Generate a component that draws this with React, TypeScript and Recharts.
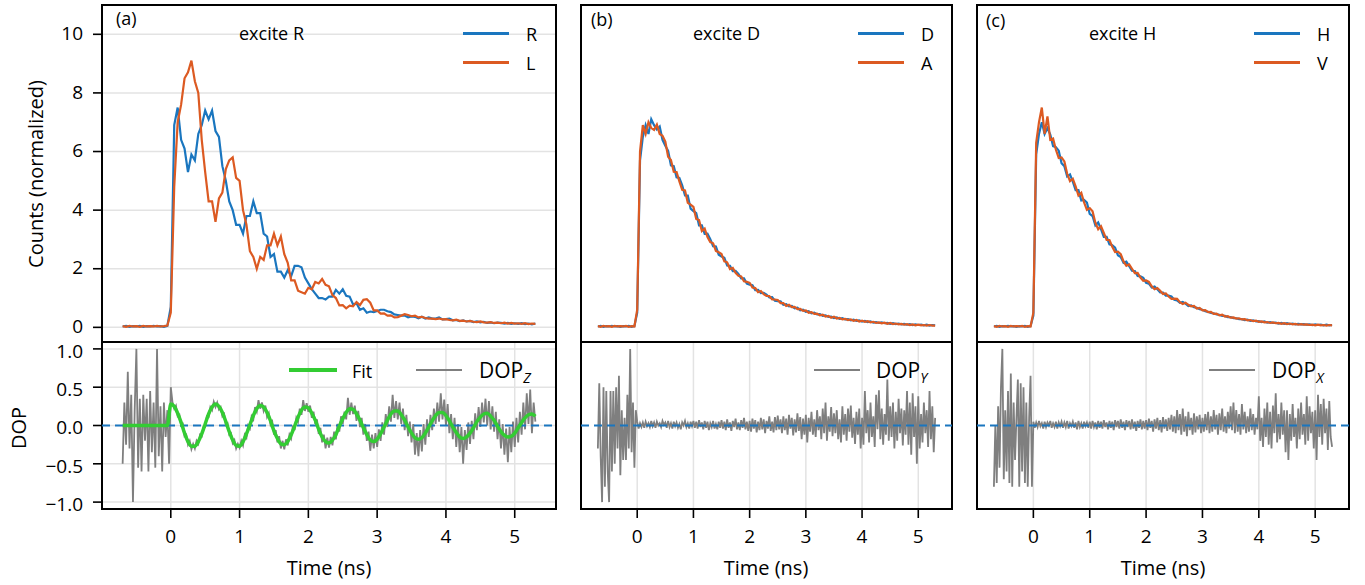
import React from 'react';
import { LineChart, Line, XAxis, YAxis, CartesianGrid, ReferenceLine, ReferenceArea } from 'recharts';

// ---------- sampling grids ----------
const timeTop: number[] = Array.from({ length: 121 }, (_, i) => Math.round((-0.7 + i * 0.05) * 1000) / 1000);
const timeDop: number[] = Array.from({ length: 241 }, (_, i) => Math.round((-0.7 + i * 0.025) * 1000) / 1000);

// ---------- tick labels ----------
const xTicksTop = [0, 2, 4];
const xTicksBottom = [0, 1, 2, 3, 4, 5];
const yTicksTop = [0, 2, 4, 6, 8, 10];
const yTicksDop = [-1, -0.5, 0, 0.5, 1];

// ---------- counts, excite R ----------
const countsR = [
  0.03, 0.05, 0.02, 0.04, 0.03, 0.05, 0.02, 0.04, 0.03, 0.05,
  0.03, 0.04, 0.02, 0.05, 0.7, 6.9, 7.5, 6.4, 6.1, 5.3,
  5.9, 5.7, 6.6, 6.9, 7.4, 7.1, 7.4, 6.7, 6.5, 5.5,
  5.0, 4.3, 4.0, 3.5, 3.5, 3.2, 3.8, 3.8, 4.3, 3.9,
  3.9, 3.2, 3.1, 2.4, 2.5, 1.9, 1.9, 1.7, 1.95, 1.75,
  2.1, 2.1, 2.05, 1.7, 1.5, 1.3, 1.15, 1.0, 1.0, 0.95,
  1.05, 1.05, 1.28, 1.15, 1.3, 1.08, 1.05, 0.78, 0.82, 0.6,
  0.65, 0.5, 0.54, 0.52, 0.56, 0.6, 0.6, 0.55, 0.52, 0.44,
  0.42, 0.4, 0.4, 0.34, 0.37, 0.36, 0.31, 0.36, 0.3, 0.34,
  0.3, 0.3, 0.34, 0.27, 0.28, 0.3, 0.24, 0.25, 0.21, 0.24,
  0.2, 0.22, 0.18, 0.2, 0.17, 0.19, 0.15, 0.17, 0.14, 0.16,
  0.15, 0.13, 0.15, 0.12, 0.14, 0.12, 0.14, 0.11, 0.13, 0.1,
  0.13,
];
const countsL = [
  0.04, 0.02, 0.05, 0.03, 0.04, 0.02, 0.05, 0.03, 0.04, 0.03,
  0.05, 0.03, 0.04, 0.06, 0.5, 4.8, 7.0, 7.6, 8.5, 8.7,
  9.1, 8.4, 8.0, 6.4, 5.3, 4.3, 4.3, 3.6, 4.4, 4.6,
  5.4, 5.7, 5.8, 5.1, 5.0, 4.0, 3.5, 2.6, 2.4, 2.0,
  2.4, 2.3, 2.8, 2.8, 3.2, 2.8, 3.1, 2.5, 2.2, 1.6,
  1.6, 1.25, 1.2, 1.15, 1.35, 1.3, 1.55, 1.5, 1.65, 1.45,
  1.4, 1.1, 1.0, 0.75, 0.76, 0.65, 0.74, 0.72, 0.86, 0.76,
  0.94, 0.96, 0.84, 0.58, 0.58, 0.47, 0.48, 0.4, 0.41, 0.34,
  0.35, 0.4, 0.45, 0.42, 0.38, 0.4, 0.34, 0.36, 0.32, 0.3,
  0.3, 0.28, 0.3, 0.27, 0.28, 0.25, 0.24, 0.26, 0.22, 0.23,
  0.2, 0.22, 0.19, 0.18, 0.2, 0.17, 0.16, 0.18, 0.15, 0.16,
  0.14, 0.16, 0.13, 0.15, 0.13, 0.14, 0.12, 0.14, 0.11, 0.13,
  0.12,
];

// ---------- counts, excite D ----------
const countsD = [
  0.03, 0.05, 0.02, 0.04, 0.03, 0.05, 0.03, 0.04, 0.02, 0.04,
  0.03, 0.05, 0.02, 0.04, 0.5, 5.7, 6.5, 6.9, 6.6, 7.1,
  6.9, 6.75, 6.85, 6.4, 6.2, 6.02, 5.53, 5.5, 5.12, 5.1,
  4.85, 4.5, 4.5, 4.05, 3.97, 3.9, 3.48, 3.48, 3.19, 3.2,
  3.01, 2.77, 2.76, 2.48, 2.42, 2.37, 2.11, 2.1, 1.92, 1.93,
  1.82, 1.67, 1.67, 1.49, 1.46, 1.44, 1.27, 1.28, 1.17, 1.18,
  1.12, 1.02, 1.03, 0.91, 0.89, 0.89, 0.77, 0.79, 0.72, 0.73,
  0.65, 0.67, 0.58, 0.6, 0.53, 0.55, 0.48, 0.5, 0.44, 0.45,
  0.39, 0.41, 0.36, 0.37, 0.32, 0.34, 0.29, 0.31, 0.27, 0.28,
  0.24, 0.26, 0.22, 0.24, 0.2, 0.22, 0.18, 0.2, 0.16, 0.18,
  0.15, 0.17, 0.14, 0.15, 0.12, 0.14, 0.11, 0.13, 0.1, 0.12,
  0.09, 0.11, 0.08, 0.1, 0.08, 0.09, 0.07, 0.09, 0.06, 0.08,
  0.07,
];
const countsA = [
  0.04, 0.02, 0.05, 0.03, 0.04, 0.02, 0.05, 0.03, 0.04, 0.03,
  0.05, 0.02, 0.04, 0.03, 0.6, 6.0, 6.9, 6.6, 7.0, 6.8,
  6.74, 6.92, 6.6, 6.54, 6.34, 5.82, 5.71, 5.31, 5.3, 4.98,
  4.69, 4.67, 4.25, 4.19, 4.11, 3.7, 3.66, 3.29, 3.37, 3.08,
  2.91, 2.87, 2.61, 2.56, 2.5, 2.25, 2.22, 1.99, 2.03, 1.86,
  1.76, 1.74, 1.57, 1.55, 1.52, 1.36, 1.34, 1.2, 1.24, 1.13,
  1.07, 1.07, 0.95, 0.95, 0.93, 0.83, 0.83, 0.73, 0.77, 0.69,
  0.7, 0.62, 0.63, 0.56, 0.58, 0.5, 0.52, 0.46, 0.47, 0.41,
  0.43, 0.37, 0.39, 0.33, 0.36, 0.3, 0.32, 0.27, 0.29, 0.25,
  0.27, 0.22, 0.25, 0.2, 0.23, 0.19, 0.21, 0.17, 0.19, 0.15,
  0.17, 0.14, 0.16, 0.12, 0.15, 0.11, 0.13, 0.1, 0.12, 0.09,
  0.11, 0.08, 0.1, 0.07, 0.09, 0.07, 0.08, 0.06, 0.08, 0.06,
  0.06,
];

// ---------- counts, excite H ----------
const countsH = [
  0.03, 0.05, 0.02, 0.04, 0.03, 0.05, 0.03, 0.04, 0.02, 0.04,
  0.03, 0.05, 0.02, 0.04, 0.4, 5.9, 6.6, 7.0, 6.6, 6.8,
  6.58, 6.18, 6.15, 6.03, 5.6, 5.5, 5.15, 5.22, 4.97, 4.68,
  4.68, 4.33, 4.35, 4.26, 3.87, 3.8, 3.48, 3.58, 3.35, 3.09,
  3.09, 2.83, 2.8, 2.72, 2.46, 2.4, 2.2, 2.24, 2.09, 1.93,
  1.92, 1.75, 1.74, 1.69, 1.52, 1.49, 1.36, 1.39, 1.3, 1.19,
  1.19, 1.08, 1.08, 1.05, 0.94, 0.92, 0.84, 0.87, 0.81, 0.73,
  0.75, 0.69, 0.67, 0.62, 0.6, 0.55, 0.53, 0.49, 0.48, 0.44,
  0.43, 0.39, 0.39, 0.35, 0.35, 0.31, 0.31, 0.28, 0.28, 0.25,
  0.26, 0.22, 0.24, 0.2, 0.21, 0.18, 0.2, 0.16, 0.18, 0.15,
  0.16, 0.13, 0.15, 0.12, 0.14, 0.11, 0.13, 0.1, 0.12, 0.1,
  0.11, 0.09, 0.1, 0.08, 0.1, 0.08, 0.09, 0.07, 0.09, 0.07,
  0.08,
];
const countsV = [
  0.04, 0.02, 0.05, 0.03, 0.04, 0.02, 0.05, 0.03, 0.04, 0.03,
  0.05, 0.02, 0.04, 0.03, 0.5, 6.3, 7.0, 7.5, 6.6, 7.2,
  6.4, 6.44, 6.06, 5.78, 5.8, 5.66, 5.24, 4.99, 5.07, 4.81,
  4.5, 4.59, 4.26, 4.01, 4.07, 3.96, 3.57, 3.35, 3.45, 3.22,
  2.98, 2.98, 2.75, 2.57, 2.58, 2.5, 2.25, 2.1, 2.15, 2.0,
  1.85, 1.86, 1.7, 1.59, 1.6, 1.55, 1.4, 1.3, 1.34, 1.25,
  1.14, 1.16, 1.05, 0.97, 0.98, 0.97, 0.86, 0.8, 0.84, 0.77,
  0.72, 0.73, 0.64, 0.66, 0.58, 0.59, 0.52, 0.53, 0.46, 0.47,
  0.41, 0.43, 0.37, 0.38, 0.33, 0.34, 0.3, 0.31, 0.27, 0.28,
  0.24, 0.25, 0.21, 0.23, 0.19, 0.2, 0.17, 0.18, 0.15, 0.17,
  0.14, 0.15, 0.12, 0.14, 0.11, 0.13, 0.1, 0.12, 0.09, 0.11,
  0.09, 0.1, 0.08, 0.09, 0.07, 0.09, 0.07, 0.08, 0.06, 0.08,
  0.07,
];

// ---------- fit of DOP_Z (on the 0.05 ns grid) ----------
const fitZ = [
  0, 0, 0, 0, 0, 0, 0, 0, 0, 0, 0, 0, 0, 0,
  0.28, 0.25, 0.16, 0.04, -0.10, -0.21, -0.27, -0.27, -0.21, -0.11,
  0.02, 0.15, 0.24, 0.28, 0.25, 0.17, 0.05, -0.08, -0.19, -0.26,
  -0.27, -0.21, -0.11, 0.01, 0.13, 0.22, 0.26, 0.24, 0.17, 0.06,
  -0.07, -0.17, -0.24, -0.25, -0.21, -0.12, -0.01, 0.11, 0.20, 0.24,
  0.23, 0.16, 0.07, -0.05, -0.15, -0.21, -0.23, -0.19, -0.12, -0.01,
  0.09, 0.17, 0.22, 0.21, 0.15, 0.07, -0.03, -0.12, -0.19, -0.21,
  -0.18, -0.11, -0.02, 0.07, 0.15, 0.19, 0.19, 0.14, 0.07, -0.02,
  -0.10, -0.16, -0.18, -0.16, -0.10, -0.02, 0.06, 0.13, 0.17, 0.17,
  0.13, 0.06, -0.02, -0.09, -0.15, -0.17, -0.15, -0.10, -0.03, 0.05,
  0.11, 0.15, 0.16, 0.12, 0.07, -0.01, -0.08, -0.13, -0.15, -0.14,
  -0.10, -0.03, 0.04, 0.10, 0.14, 0.15, 0.12,
];

// ---------- DOP traces (on the 0.025 ns grid) ----------
const dopZ = [
  -0.50, 0.30, -0.25, 0.70, -0.30, 0.40, -1.00, 0.20, 1.00, -0.55, 0.35, -0.60, 0.40, -0.20,
  0.35, -0.60, 0.45, -0.35, 0.30, -0.55, 1.00, -0.40, 0.25, -0.60, 0.30, -0.15, 0.20, -0.50,
  0.50, 0.30, 0.22, 0.26, 0.12, 0.14, 0.00, 0.02, -0.14, -0.12, -0.25, -0.20, -0.31, -0.24, -0.30, -0.20, -0.24, -0.12, -0.14, -0.02,
  -0.02, 0.12, 0.11, 0.24, 0.20, 0.31, 0.24, 0.30, 0.21, 0.24, 0.12, 0.15, 0.01, 0.03, -0.12, -0.10, -0.23, -0.19, -0.30, -0.24,
  -0.29, -0.20, -0.26, -0.12, -0.16, 0.00, -0.04, 0.12, 0.08, 0.24, 0.18, 0.33, 0.22, 0.30, 0.19, 0.26, 0.11, 0.16, 0.01, 0.05,
  -0.12, -0.06, -0.22, -0.14, -0.30, -0.20, -0.31, -0.18, -0.26, -0.12, -0.17, 0.00, -0.06, 0.10, 0.05, 0.22, 0.14, 0.33, 0.19, 0.29,
  0.18, 0.26, 0.10, 0.18, 0.02, 0.08, -0.11, -0.03, -0.22, -0.12, -0.30, -0.16, -0.29, -0.15, -0.26, -0.08, -0.18, 0.02, -0.08, 0.12,
  0.02, 0.18, 0.08, 0.36, 0.14, 0.30, 0.15, 0.26, 0.06, 0.19, -0.02, 0.10, -0.12, 0.02, -0.20, -0.08, -0.33, -0.12, -0.30, -0.10,
  -0.28, -0.05, -0.20, 0.04, -0.12, 0.15, -0.02, 0.25, 0.05, 0.40, 0.10, 0.32, 0.08, 0.30, 0.02, 0.22, -0.06, 0.14, -0.14, 0.05,
  -0.22, 0.02, -0.38, -0.10, -0.40, -0.06, -0.34, 0.02, -0.25, 0.08, -0.15, 0.14, -0.06, 0.22, 0.02, 0.30, 0.05, 0.42, 0.08, 0.34,
  0.00, 0.28, -0.10, 0.15, -0.18, 0.10, -0.28, 0.02, -0.35, -0.02, -0.50, -0.06, -0.32, 0.04, -0.24, 0.06, -0.18, 0.16, -0.06, 0.24,
  -0.02, 0.30, 0.04, 0.35, 0.00, 0.32, -0.05, 0.25, -0.08, 0.18, -0.18, 0.08, -0.30, 0.02, -0.38, -0.04, -0.48, -0.02, -0.35, 0.05,
  -0.28, 0.10, -0.22, 0.18, -0.12, 0.30, -0.05, 0.42, 0.02, 0.47, -0.10, 0.30, 0.05,
];
const dopY = [
  -0.30, 0.55, -0.40, -1.00, 0.50, -0.80, 0.45, -0.60, -1.00, 0.45, -0.60, 0.45, -0.50, 0.50,
  -0.30, 0.65, -0.65, 0.20, -0.45, 0.10, -0.45, 0.40, -0.30, 1.00, -0.35, 0.30, -0.55, 0.20,
  0.05, -0.04, 0.03, -0.02, 0.04, -0.03, 0.05, -0.01, 0.03, -0.02, 0.06, -0.01, 0.04, -0.03, 0.05, 0.00, 0.03, -0.02, 0.06, 0.01,
  0.04, -0.03, 0.06, -0.02, 0.03, -0.04, 0.05, -0.01, 0.04, -0.03, 0.02, -0.05, 0.04, 0.00, 0.06, -0.02, 0.03, -0.04, 0.05, -0.01,
  0.06, -0.03, 0.05, -0.04, 0.07, -0.02, 0.04, -0.05, 0.06, -0.03, 0.05, -0.06, 0.03, -0.02, 0.06, -0.04, 0.02, -0.05, 0.05, -0.03,
  0.07, -0.04, 0.05, -0.06, 0.08, -0.03, 0.04, -0.07, 0.06, -0.02, 0.09, -0.05, 0.04, -0.06, 0.07, -0.03, 0.10, -0.05, 0.05, -0.07,
  0.06, -0.08, 0.09, -0.04, 0.07, -0.09, 0.05, -0.06, 0.10, -0.05, 0.08, -0.10, 0.06, -0.04, 0.12, -0.07, 0.05, -0.09, 0.11, -0.06,
  0.13, -0.05, 0.08, -0.10, 0.12, -0.06, 0.09, -0.12, 0.14, -0.04, 0.10, -0.13, 0.08, -0.09, 0.16, -0.07, 0.11, -0.18, 0.09, -0.12,
  0.14, -0.22, 0.10, -0.08, 0.18, -0.12, 0.08, -0.15, 0.20, -0.06, 0.12, -0.18, 0.22, -0.10, 0.30, -0.20, 0.12, -0.08, 0.24, -0.14,
  0.16, -0.10, 0.20, -0.18, 0.08, -0.22, 0.25, -0.12, 0.15, -0.20, 0.22, -0.08, 0.26, -0.16, 0.10, -0.24, 0.18, -0.12, 0.22, -0.30,
  0.10, -0.25, 0.45, -0.10, 0.20, -0.22, 0.30, -0.15, 0.12, -0.28, 0.40, -0.05, 0.46, -0.18, 0.22, -0.25, 0.15, -0.12, 0.60, -0.20,
  0.25, -0.15, 0.30, -0.30, 0.18, -0.20, 0.35, -0.10, 0.22, -0.26, 0.20, -0.12, 0.45, -0.25, 0.30, -0.38, 0.42, -0.15, 0.25, -0.50,
  0.38, -0.30, 0.15, -0.22, 0.30, -0.10, 0.20, -0.28, 0.45, -0.18, 0.25, -0.35, 0.10,
];
const dopX = [
  -0.80, 0.00, -0.75, 0.25, -0.55, 0.50, 1.00, -0.70, 0.20, -0.60, 0.45, -0.75, 0.68, -0.80,
  0.30, -0.45, 0.10, 0.60, -0.80, 0.55, -0.60, 0.50, -0.75, 0.30, -0.80, 0.10, 0.65, -0.80,
  0.05, -0.03, 0.04, -0.02, 0.06, -0.01, 0.03, -0.04, 0.05, -0.02, 0.04, 0.00, 0.06, -0.03, 0.03, -0.02, 0.05, -0.04, 0.04, -0.01,
  0.05, -0.03, 0.04, -0.02, 0.06, -0.04, 0.03, -0.01, 0.05, -0.03, 0.04, -0.05, 0.06, -0.02, 0.03, -0.04, 0.05, -0.01, 0.04, -0.03,
  0.05, -0.04, 0.06, -0.02, 0.04, -0.05, 0.06, -0.03, 0.05, -0.04, 0.07, -0.02, 0.04, -0.05, 0.06, -0.03, 0.05, -0.06, 0.07, -0.02,
  0.06, -0.04, 0.08, -0.03, 0.05, -0.06, 0.07, -0.02, 0.06, -0.05, 0.08, -0.04, 0.05, -0.07, 0.06, -0.03, 0.08, -0.05, 0.06, -0.04,
  0.07, -0.06, 0.09, -0.03, 0.06, -0.08, 0.08, -0.04, 0.10, -0.06, 0.07, -0.09, 0.11, -0.04, 0.08, -0.07, 0.10, -0.05, 0.14, -0.08,
  0.12, -0.10, 0.20, -0.06, 0.15, -0.12, 0.22, -0.08, 0.12, -0.14, 0.18, -0.06, 0.10, -0.12, 0.16, -0.09, 0.12, -0.05, 0.14, -0.10,
  0.10, -0.08, 0.15, -0.06, 0.18, -0.10, 0.12, -0.08, 0.20, -0.05, 0.14, -0.12, 0.16, -0.06, 0.22, -0.08, 0.12, -0.10, 0.18, -0.04,
  0.25, -0.06, 0.30, -0.10, 0.20, -0.08, 0.15, -0.12, 0.28, -0.05, 0.18, -0.10, 0.12, -0.08, 0.22, -0.06, 0.15, -0.12, 0.10, -0.05,
  0.38, -0.20, 0.10, -0.28, 0.22, -0.15, 0.30, -0.25, 0.18, -0.30, 0.26, -0.10, 0.42, -0.22, 0.15, -0.18, 0.30, -0.12, 0.20, -0.35,
  0.20, -0.45, 0.15, -0.20, 0.28, -0.15, 0.10, -0.30, 0.22, -0.18, 0.30, -0.12, 0.15, -0.25, 0.38, -0.20, 0.25, -0.10, 0.18, -0.30,
  0.20, -0.45, 0.40, -0.15, 0.28, -0.25, 0.35, -0.10, 0.22, -0.32, 0.32, -0.15, -0.28,
];

// ---------- rows built for the library ----------
const topRows = timeTop.map((t, i) => ({
  t, R: countsR[i], L: countsL[i], D: countsD[i], A: countsA[i], H: countsH[i], V: countsV[i], fit: fitZ[i],
}));
const dopRows = timeDop.map((t, i) => ({ t, z: dopZ[i], y: dopY[i], x: dopX[i] }));

// ---------- style ----------
const BLUE = '#1a76bf';
const ORANGE = '#dc5a22';
const GRAY = '#7f7f7f';
const GREEN = '#33cc33';
const FONT = "'Open Sans', sans-serif";
const X_DOMAIN: [number, number] = [-1.0, 5.6];
const TOP_DOMAIN: [number, number] = [-0.5, 11];
const DOP_DOMAIN: [number, number] = [-1.09, 1.09];
const PAD_T = 14;
const PAD_R = 6;

const COLS = [
  { x: 102, w: 454 },
  { x: 581, w: 371 },
  { x: 977, w: 372 },
];
const TOP = { y: 5, h: 337 };
const BOT = { y: 342, h: 167 };

const fmtDop = (v: number) => (v < 0 ? '\u2212' : '') + Math.abs(v).toFixed(1);
const tickStyle = { fill: '#000', fontSize: 19, fontFamily: FONT };

type PanelProps = {
  x: number; y: number; w: number; h: number;
  padL: number; padB: number;
  data: any[];
  yDomain: [number, number];
  yTicks: number[];
  xTicks: number[];
  showX: boolean;
  showY: boolean;
  yDy?: number;
  yFmt?: (v: number) => string;
  children?: React.ReactNode;
};

function Panel(p: PanelProps) {
  const W = p.w + p.padL + PAD_R;
  const H = p.h + PAD_T + p.padB;
  return (
    <div style={{ position: 'absolute', left: p.x - p.padL, top: p.y - PAD_T, width: W, height: H }}>
      <LineChart width={W} height={H} data={p.data} margin={{ top: PAD_T, right: PAD_R, bottom: 0, left: 0 }}>
        <CartesianGrid xAxisId="b" yAxisId="l" stroke="#e3e3e3" strokeWidth={1.5} />
        <XAxis
          xAxisId="b" dataKey="t" type="number" domain={X_DOMAIN} allowDataOverflow
          ticks={p.xTicks} interval={0} height={p.padB}
          tick={p.showX ? tickStyle : false}
          tickLine={p.showX ? { stroke: '#000', strokeWidth: 1.6 } : false}
          tickSize={9} tickMargin={12} axisLine={false}
        />
        <YAxis
          yAxisId="l" type="number" domain={p.yDomain} allowDataOverflow
          ticks={p.yTicks} interval={0} width={p.padL}
          tick={p.showY ? { ...tickStyle, dy: p.yDy || 0 } : false}
          tickLine={p.showY ? { stroke: '#000', strokeWidth: 1.6 } : false}
          tickSize={9} tickMargin={10} axisLine={false}
          tickFormatter={p.yFmt}
        />
        {p.children}
        <ReferenceArea
          xAxisId="b" yAxisId="l"
          x1={X_DOMAIN[0]} x2={X_DOMAIN[1]} y1={p.yDomain[0]} y2={p.yDomain[1]}
          fill="none" fillOpacity={0} stroke="#000" strokeWidth={2} strokeOpacity={1}
          ifOverflow="visible"
        />
      </LineChart>
    </div>
  );
}

function Txt(props: { x: number; y: number; size: number; center?: boolean; rotate?: boolean; children: React.ReactNode }) {
  const tf = props.center
    ? `translate(-50%, -50%)${props.rotate ? ' rotate(-90deg)' : ''}`
    : 'translateY(-50%)';
  return (
    <div
      style={{
        position: 'absolute', left: props.x, top: props.y, fontSize: props.size, lineHeight: 1,
        whiteSpace: 'nowrap', transform: tf, fontFamily: FONT, color: '#000',
      }}
    >
      {props.children}
    </div>
  );
}

function Swatch(props: { x1: number; x2: number; y: number; color: string; thick: number }) {
  return (
    <div
      style={{
        position: 'absolute', left: props.x1, top: props.y - props.thick / 2,
        width: props.x2 - props.x1, height: props.thick, background: props.color,
      }}
    />
  );
}

const Dop = (props: { sub: string }) => (
  <span>
    DOP<span style={{ fontSize: 14, fontStyle: 'italic', position: 'relative', top: 5 }}>{props.sub}</span>
  </span>
);

const topLines = [
  ['R', 'L'],
  ['D', 'A'],
  ['H', 'V'],
];
const dopKeys = ['z', 'y', 'x'];
const panelTags = ['(a)', '(b)', '(c)'];
const exciteLabels = ['excite R', 'excite D', 'excite H'];
const dopSubs = ['Z', 'Y', 'X'];

export default function App() {
  return (
    <div style={{ position: 'absolute', left: 0, top: 0, width: 1365, height: 585, background: '#fff', fontFamily: FONT, overflow: 'hidden' }}>
      {COLS.map((c, ci) => (
        <React.Fragment key={ci}>
          <Panel
            x={c.x} y={TOP.y} w={c.w} h={TOP.h}
            padL={ci === 0 ? 60 : 6} padB={6}
            data={topRows} yDomain={TOP_DOMAIN} yTicks={yTicksTop} xTicks={xTicksTop}
            showX={false} showY={ci === 0} yDy={-1}
          >
            <Line xAxisId="b" yAxisId="l" dataKey={topLines[ci][0]} stroke={BLUE} strokeWidth={2.2} dot={false} activeDot={false} isAnimationActive={false} />
            <Line xAxisId="b" yAxisId="l" dataKey={topLines[ci][1]} stroke={ORANGE} strokeWidth={2.2} dot={false} activeDot={false} isAnimationActive={false} />
          </Panel>
          <Panel
            x={c.x} y={BOT.y} w={c.w} h={BOT.h}
            padL={ci === 0 ? 72 : 6} padB={60}
            data={dopRows} yDomain={DOP_DOMAIN} yTicks={yTicksDop} xTicks={xTicksBottom}
            showX={true} showY={ci === 0} yFmt={fmtDop} yDy={2}
          >
            <Line xAxisId="b" yAxisId="l" dataKey={dopKeys[ci]} stroke={GRAY} strokeWidth={1.8} dot={false} activeDot={false} isAnimationActive={false} />
            <ReferenceLine xAxisId="b" yAxisId="l" y={0} stroke={BLUE} strokeWidth={2} strokeDasharray="8 5" />
            {ci === 0 && (
              <Line xAxisId="b" yAxisId="l" data={topRows} dataKey="fit" type="monotone" stroke={GREEN} strokeWidth={3.5} dot={false} activeDot={false} isAnimationActive={false} />
            )}
          </Panel>
        </React.Fragment>
      ))}

      {/* panel tags and titles */}
      <Txt x={116} y={18} size={18}>{panelTags[0]}</Txt>
      <Txt x={591} y={19} size={18}>{panelTags[1]}</Txt>
      <Txt x={986} y={20} size={18}>{panelTags[2]}</Txt>
      <Txt x={239} y={33} size={18}>{exciteLabels[0]}</Txt>
      <Txt x={693} y={33} size={18}>{exciteLabels[1]}</Txt>
      <Txt x={1089} y={33} size={18}>{exciteLabels[2]}</Txt>

      {/* top legends */}
      {[[463, 509, 526], [858, 904, 921], [1254, 1300, 1317]].map((l, i) => (
        <React.Fragment key={'lg' + i}>
          <Swatch x1={l[0]} x2={l[1]} y={33} color={BLUE} thick={3} />
          <Swatch x1={l[0]} x2={l[1]} y={62} color={ORANGE} thick={3} />
          <Txt x={l[2]} y={34} size={18}>{topLines[i][0]}</Txt>
          <Txt x={l[2]} y={63} size={18}>{topLines[i][1]}</Txt>
        </React.Fragment>
      ))}

      {/* bottom legends */}
      <Swatch x1={289} x2={337} y={370} color={GREEN} thick={4} />
      <Txt x={352} y={371} size={18}>Fit</Txt>
      <Swatch x1={416} x2={462} y={370} color={GRAY} thick={2.5} />
      <Txt x={479} y={370} size={21}><Dop sub={dopSubs[0]} /></Txt>
      <Swatch x1={814} x2={860} y={370} color={GRAY} thick={2.5} />
      <Txt x={876} y={370} size={21}><Dop sub={dopSubs[1]} /></Txt>
      <Swatch x1={1209} x2={1255} y={370} color={GRAY} thick={2.5} />
      <Txt x={1272} y={370} size={21}><Dop sub={dopSubs[2]} /></Txt>

      {/* axis titles */}
      <Txt x={36} y={174} size={20} center rotate>Counts (normalized)</Txt>
      <Txt x={19} y={428} size={20} center rotate>DOP</Txt>
      <Txt x={329} y={568} size={20} center>Time (ns)</Txt>
      <Txt x={766} y={568} size={20} center>Time (ns)</Txt>
      <Txt x={1163} y={568} size={20} center>Time (ns)</Txt>
    </div>
  );
}
